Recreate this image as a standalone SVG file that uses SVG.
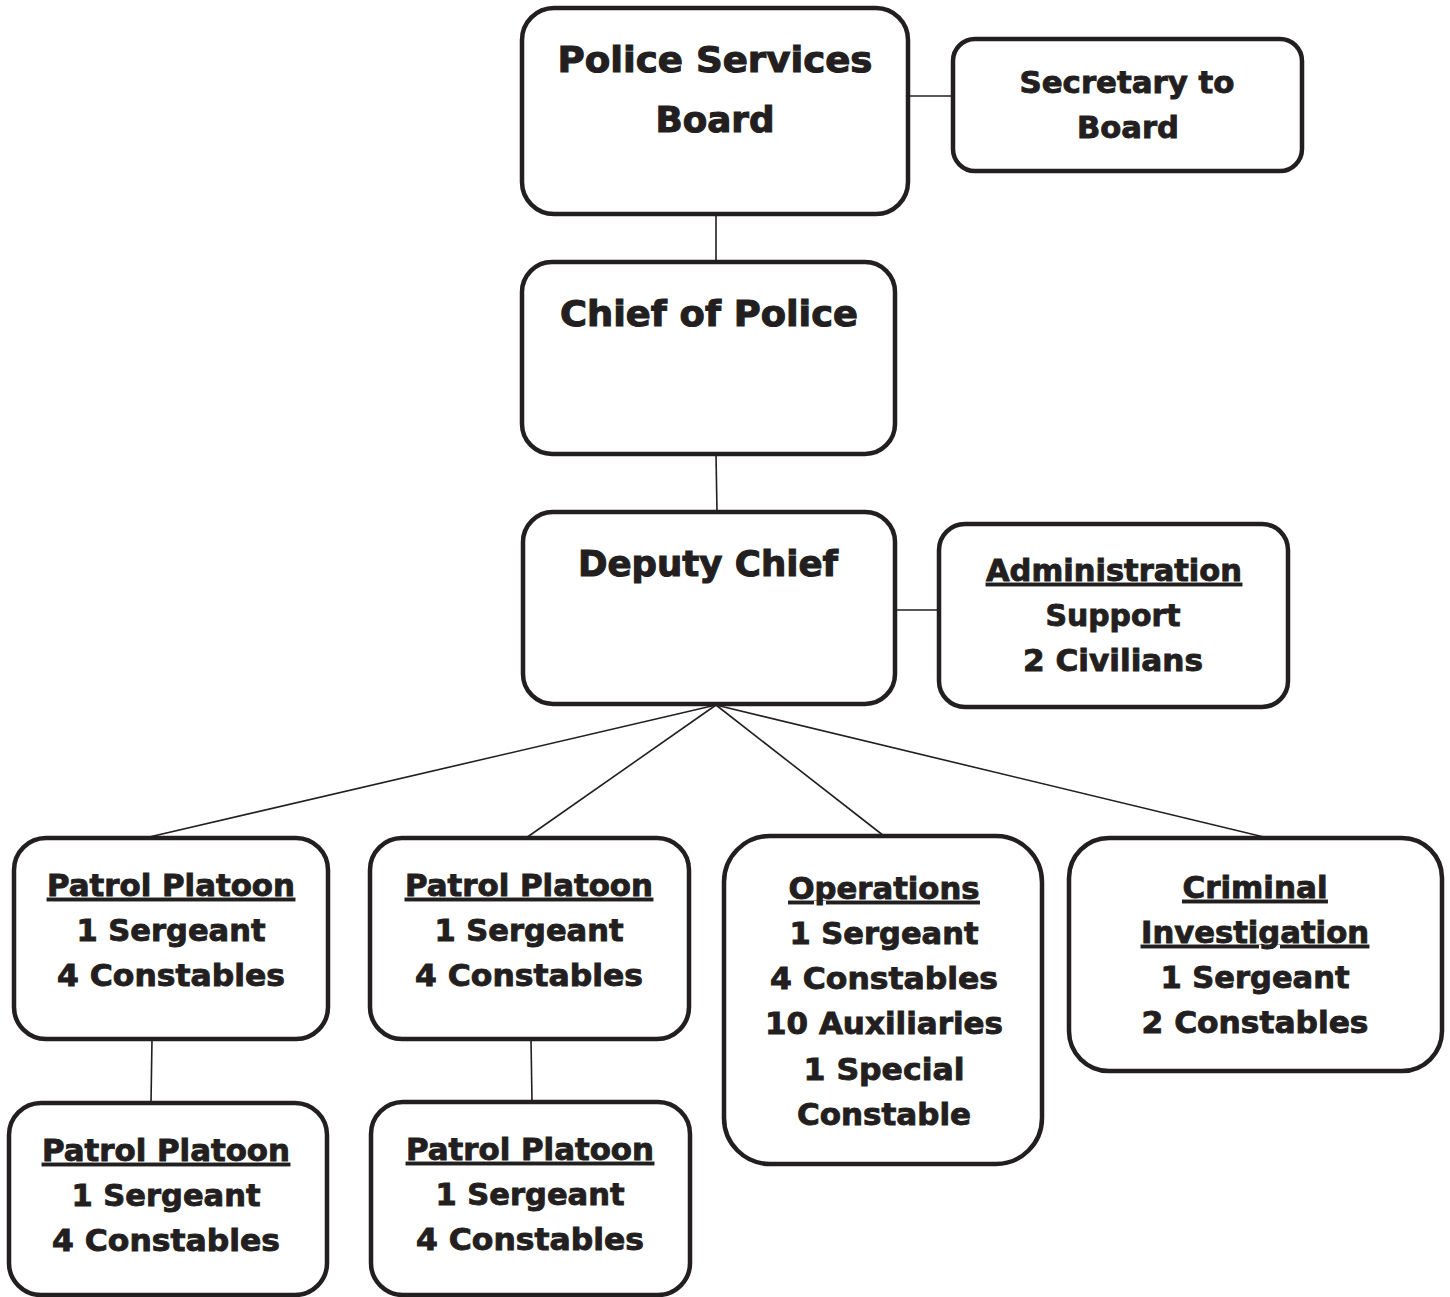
<svg xmlns="http://www.w3.org/2000/svg" width="1450" height="1297" viewBox="0 0 1450 1297">
<style>
.box{fill:#fff;stroke:#231f20;stroke-width:4.5}
.con line{stroke:#231f20;stroke-width:1.6}
text{font-family:"DejaVu Sans","Liberation Sans",sans-serif;font-weight:bold;fill:#231f20;stroke:#231f20;stroke-width:0.9;text-anchor:middle}
.big{font-size:36px;stroke-width:1.1}
.sm{font-size:30px}
.u{text-decoration:underline}
</style>
<rect width="1450" height="1297" fill="#fff"/>
<g id="connectors" class="con">
<line x1="908" y1="96" x2="953" y2="96"/>
<line x1="716" y1="214" x2="716" y2="262"/>
<line x1="716" y1="454" x2="717" y2="512"/>
<line x1="895" y1="610" x2="939" y2="610"/>
<line x1="716" y1="705" x2="145" y2="838"/>
<line x1="716" y1="705" x2="526" y2="838"/>
<line x1="716" y1="705" x2="884" y2="836"/>
<line x1="716" y1="705" x2="1268" y2="838"/>
<line x1="152" y1="1039" x2="151" y2="1103"/>
<line x1="531" y1="1039" x2="532" y2="1102"/>
</g>
<g id="psb"><rect class="box" x="522" y="8" width="386" height="206" rx="32"/>
<text class="big" x="715" y="72" textLength="315" lengthAdjust="spacingAndGlyphs">Police Services</text>
<text class="big" x="715" y="132" textLength="119" lengthAdjust="spacingAndGlyphs">Board</text></g>
<g id="secretary"><rect class="box" x="953" y="39" width="349" height="132" rx="22"/>
<text class="sm" x="1127" y="93" textLength="215" lengthAdjust="spacingAndGlyphs">Secretary to</text>
<text class="sm" x="1128" y="138" textLength="102" lengthAdjust="spacingAndGlyphs">Board</text></g>
<g id="chief"><rect class="box" x="522" y="262" width="373" height="192" rx="30"/>
<text class="big" x="709" y="326" textLength="298" lengthAdjust="spacingAndGlyphs">Chief of Police</text></g>
<g id="deputy"><rect class="box" x="523" y="512" width="372" height="192" rx="30"/>
<text class="big" x="708" y="576" textLength="260" lengthAdjust="spacingAndGlyphs">Deputy Chief</text></g>
<g id="admin"><rect class="box" x="939" y="524" width="349" height="183" rx="26"/>
<text class="sm u" x="1114" y="581" textLength="256" lengthAdjust="spacingAndGlyphs">Administration</text>
<text class="sm" x="1113" y="626" textLength="135" lengthAdjust="spacingAndGlyphs">Support</text>
<text class="sm" x="1113" y="671" textLength="180" lengthAdjust="spacingAndGlyphs">2 Civilians</text></g>
<g id="pp1"><rect class="box" x="14" y="838" width="314" height="201" rx="32"/>
<text class="sm u" x="171" y="896" textLength="248" lengthAdjust="spacingAndGlyphs">Patrol Platoon</text>
<text class="sm" x="171" y="941" textLength="189" lengthAdjust="spacingAndGlyphs">1 Sergeant</text>
<text class="sm" x="171" y="986" textLength="228" lengthAdjust="spacingAndGlyphs">4 Constables</text></g>
<g id="pp2"><rect class="box" x="370" y="838" width="319" height="201" rx="32"/>
<text class="sm u" x="529" y="896" textLength="248" lengthAdjust="spacingAndGlyphs">Patrol Platoon</text>
<text class="sm" x="529" y="941" textLength="189" lengthAdjust="spacingAndGlyphs">1 Sergeant</text>
<text class="sm" x="529" y="986" textLength="228" lengthAdjust="spacingAndGlyphs">4 Constables</text></g>
<g id="operations"><rect class="box" x="724" y="836" width="318" height="328" rx="46"/>
<text class="sm u" x="884" y="899" textLength="191" lengthAdjust="spacingAndGlyphs">Operations</text>
<text class="sm" x="884" y="944" textLength="189" lengthAdjust="spacingAndGlyphs">1 Sergeant</text>
<text class="sm" x="884" y="989" textLength="228" lengthAdjust="spacingAndGlyphs">4 Constables</text>
<text class="sm" x="884" y="1034" textLength="238" lengthAdjust="spacingAndGlyphs">10 Auxiliaries</text>
<text class="sm" x="884" y="1080" textLength="161" lengthAdjust="spacingAndGlyphs">1 Special</text>
<text class="sm" x="884" y="1125" textLength="174" lengthAdjust="spacingAndGlyphs">Constable</text></g>
<g id="criminal"><rect class="box" x="1069" y="838" width="373" height="233" rx="40"/>
<text class="sm u" x="1255" y="898" textLength="145" lengthAdjust="spacingAndGlyphs">Criminal</text>
<text class="sm u" x="1255" y="943" textLength="228" lengthAdjust="spacingAndGlyphs">Investigation</text>
<text class="sm" x="1255" y="988" textLength="189" lengthAdjust="spacingAndGlyphs">1 Sergeant</text>
<text class="sm" x="1255" y="1033" textLength="227" lengthAdjust="spacingAndGlyphs">2 Constables</text></g>
<g id="pp3"><rect class="box" x="9" y="1103" width="318" height="192" rx="32"/>
<text class="sm u" x="166" y="1161" textLength="248" lengthAdjust="spacingAndGlyphs">Patrol Platoon</text>
<text class="sm" x="166" y="1206" textLength="189" lengthAdjust="spacingAndGlyphs">1 Sergeant</text>
<text class="sm" x="166" y="1251" textLength="228" lengthAdjust="spacingAndGlyphs">4 Constables</text></g>
<g id="pp4"><rect class="box" x="371" y="1102" width="319" height="193" rx="32"/>
<text class="sm u" x="530" y="1160" textLength="248" lengthAdjust="spacingAndGlyphs">Patrol Platoon</text>
<text class="sm" x="530" y="1205" textLength="189" lengthAdjust="spacingAndGlyphs">1 Sergeant</text>
<text class="sm" x="530" y="1250" textLength="228" lengthAdjust="spacingAndGlyphs">4 Constables</text></g>
</svg>
